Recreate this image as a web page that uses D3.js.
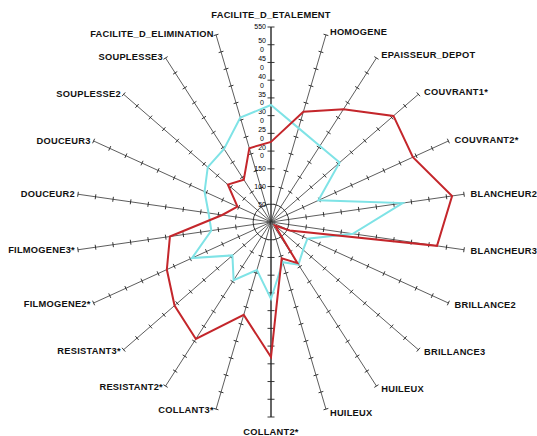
<!DOCTYPE html>
<meta charset="utf-8">
<style>
  body { margin: 0; background: #fff; }
  .lbl { font-family: "Liberation Sans", Arial, sans-serif; font-weight: bold; font-size: 9.3px; letter-spacing: 0.25px; fill: #111; }
  .tick-lbl { font-family: "Liberation Sans", Arial, sans-serif; font-size: 7px; fill: #000; }
</style>
<script src="https://d3js.org/d3.v7.min.js"></script>
<div id="chart"></div>
<script>
// axes, clockwise from the top
const axes = ["FACILITE_D_ETALEMENT", "HOMOGENE", "EPAISSEUR_DEPOT", "COUVRANT1*", "COUVRANT2*",
  "BLANCHEUR2", "BLANCHEUR3", "BRILLANCE2", "BRILLANCE3", "HUILEUX", "HUILEUX", "COLLANT2*",
  "COLLANT3*", "RESISTANT2*", "RESISTANT3*", "FILMOGENE2*", "FILMOGENE3*", "DOUCEUR2",
  "DOUCEUR3", "SOUPLESSE2", "SOUPLESSE3", "FACILITE_D_ELIMINATION"];

// red series
const serieRouge = [226, 324, 378, 457, 440, 516, 473, 58, 15, 138, 107, 381,
  273, 392, 360, 323, 288, 139, 104, 161, 142, 217];
// cyan series
const serieCyan = [330, 276, 255, 256, 147, 375, 233, 113, 120, 143, 118, 217,
  141, 195, 144, 245, 170, 178, 206, 236, 245, 307];

const tickValues = [50, 100, 150, 200, 250, 300, 350, 400, 450, 500, 550];

const W = 537, H = 436, cx = 271, cy = 222;

const svg = d3.select("#chart").append("svg")
  .attr("width", W).attr("height", H);
const g = svg.append("g").attr("transform", `translate(${cx},${cy})`);

const r = d3.scaleLinear().domain([0, 550]).range([0, 195]);
const angle = d3.scaleLinear().domain([0, axes.length]).range([0, 2 * Math.PI]);

function pt(i, v) {
  const a = angle(i);
  return [Math.sin(a) * r(v), -Math.cos(a) * r(v)];
}

// axis lines
axes.forEach((name, i) => {
  const vertical = (i === 0 || i === 11);
  const end = pt(i, 550);
  g.append("line")
    .attr("x1", 0).attr("y1", 0)
    .attr("x2", end[0]).attr("y2", end[1])
    .attr("stroke", vertical ? "#666" : "#333")
    .attr("stroke-width", vertical ? 2 : 0.8);
  // ticks perpendicular to the axis
  const a = angle(i);
  const px = Math.cos(a), py = Math.sin(a);
  tickValues.forEach(v => {
    const p = pt(i, v);
    const h = vertical ? 3.5 : 2.5;
    g.append("line")
      .attr("x1", p[0] - px * h).attr("y1", p[1] - py * h)
      .attr("x2", p[0] + px * h).attr("y2", p[1] + py * h)
      .attr("stroke", "#222").attr("stroke-width", 0.9);
  });
});

// tick labels on the top axis
tickValues.forEach(v => {
  const p = pt(0, v);
  const s = String(v);
  const t = g.append("text").attr("class", "tick-lbl")
    .attr("text-anchor", "end")
    .attr("x", -5).attr("y", p[1]);
  if (v >= 200 && v <= 500) {
    t.append("tspan").attr("x", -5).attr("dy", "-0.2em").text(s.slice(0, -1));
    t.append("tspan").attr("x", -7).attr("dy", "1.25em").text(s.slice(-1));
  } else {
    t.attr("dy", "0.35em").text(s);
  }
});

// series
const radial = d3.lineRadial()
  .angle((d, i) => angle(i))
  .radius(d => r(d))
  .curve(d3.curveLinearClosed);

g.append("path").datum(serieCyan)
  .attr("d", radial)
  .attr("fill", "none").attr("stroke", "#7fe3e6").attr("stroke-width", 2);

g.append("path").datum(serieRouge)
  .attr("d", radial)
  .attr("fill", "none").attr("stroke", "#c4262b").attr("stroke-width", 2);

// axis names
axes.forEach((name, i) => {
  const a = angle(i);
  const s = Math.sin(a);
  const c = Math.cos(a);
  const mid = Math.abs(s) < 0.01;
  let p;
  if (mid) p = pt(i, c > 0 ? 584 : 592);
  else p = pt(i, s > 0 ? 560 : 553);
  g.append("text").attr("class", "lbl")
    .attr("x", p[0] + (s > 0.01 ? 3 : s < -0.01 ? -2 : 0))
    .attr("y", p[1])
    .attr("dy", "0.35em")
    .attr("text-anchor", mid ? "middle" : (s > 0 ? "start" : "end"))
    .text(name);
});
</script>
